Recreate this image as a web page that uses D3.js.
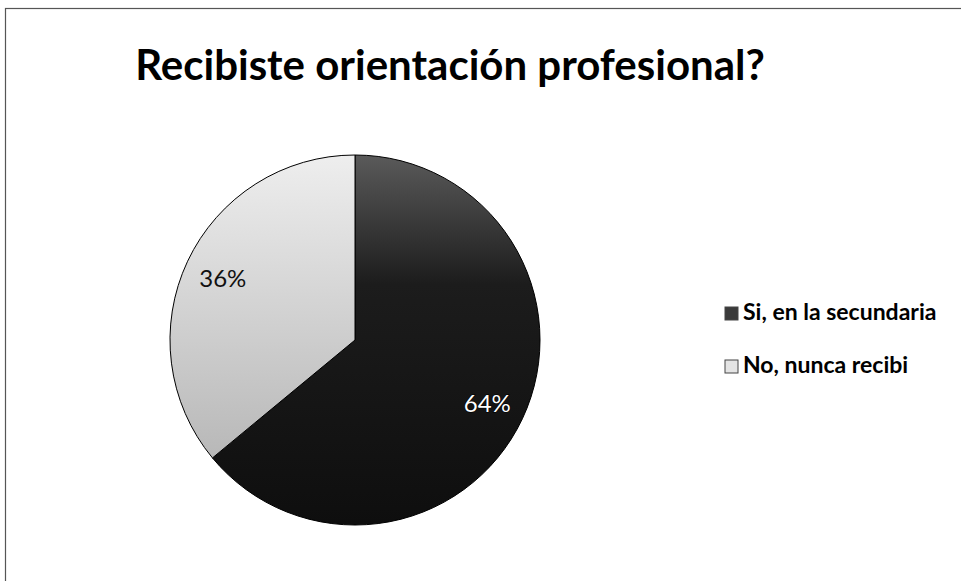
<!DOCTYPE html>
<html>
<head>
<meta charset="utf-8">
<script src="https://cdn.jsdelivr.net/npm/d3@7"></script>
<style>
  html, body { margin: 0; padding: 0; background: #fff; }
  svg { display: block; }
</style>
</head>
<body>
<svg id="chart" width="961" height="581"></svg>
<script>
const title = "Recibiste orientación profesional?";
const categories = ["Si, en la secundaria", "No, nunca recibi"];
const values = [64, 36];
const labels = ["64%", "36%"];

const W = 961, H = 581;
const svg = d3.select("#chart");
const font = "Lato, 'Open Sans', 'DejaVu Sans', sans-serif";

// frame
svg.append("rect").attr("x", 5.5).attr("y", 8.5).attr("width", W + 20).attr("height", H + 20)
  .attr("fill", "#fff").attr("stroke", "#555").attr("stroke-width", 1.2);

// gradients
const defs = svg.append("defs");
const g1 = defs.append("linearGradient").attr("id", "gDark").attr("x1", 0).attr("y1", 0).attr("x2", 0).attr("y2", 1);
g1.append("stop").attr("offset", "0%").attr("stop-color", "#5a5a5a");
g1.append("stop").attr("offset", "35%").attr("stop-color", "#1c1c1c");
g1.append("stop").attr("offset", "100%").attr("stop-color", "#0e0e0e");
const g2 = defs.append("linearGradient").attr("id", "gLight").attr("x1", 0).attr("y1", 0).attr("x2", 0).attr("y2", 1);
g2.append("stop").attr("offset", "0%").attr("stop-color", "#eeeeee");
g2.append("stop").attr("offset", "100%").attr("stop-color", "#b8b8b8");
const fills = ["url(#gDark)", "url(#gLight)"];
const swatch = ["#3a3a3a", "#e4e4e4"];

// title
svg.append("text").attr("x", 450).attr("y", 80).attr("text-anchor", "middle")
  .attr("font-family", font).attr("font-weight", 700).attr("font-size", 42)
  .attr("fill", "#000").text(title);

// pie
const cx = 355, cy = 340, r = 185;
const pie = d3.pie().sort(null).value(d => d)(values);
const arc = d3.arc().innerRadius(0).outerRadius(r);
const labelArc = d3.arc().innerRadius(r * 0.79).outerRadius(r * 0.79);
const gp = svg.append("g").attr("transform", `translate(${cx},${cy})`);
gp.selectAll("path").data(pie).join("path")
  .attr("d", arc).attr("fill", (d, i) => fills[i])
  .attr("stroke", "#000").attr("stroke-width", 1);

gp.selectAll("text.lbl").data(pie).join("text").attr("class", "lbl")
  .attr("transform", d => `translate(${labelArc.centroid(d)})`)
  .attr("text-anchor", "middle").attr("dominant-baseline", "central")
  .attr("font-family", font).attr("font-size", 24)
  .attr("fill", (d, i) => i === 0 ? "#fff" : "#111")
  .attr("stroke", (d, i) => i === 0 ? "#000" : "none")
  .attr("stroke-width", 1.2).attr("paint-order", "stroke")
  .text((d, i) => labels[i]);

// legend
const lg = svg.append("g").attr("transform", "translate(725,320)");
const items = lg.selectAll("g").data(categories).join("g")
  .attr("transform", (d, i) => `translate(0,${i * 53})`);
items.append("rect").attr("x", 0).attr("y", -13).attr("width", 13).attr("height", 13)
  .attr("fill", (d, i) => swatch[i]).attr("stroke", "#444").attr("stroke-width", 1);
items.append("text").attr("x", 18).attr("y", 0)
  .attr("font-family", font).attr("font-weight", 700).attr("font-size", 23)
  .attr("fill", "#000").text(d => d);
</script>
</body>
</html>
